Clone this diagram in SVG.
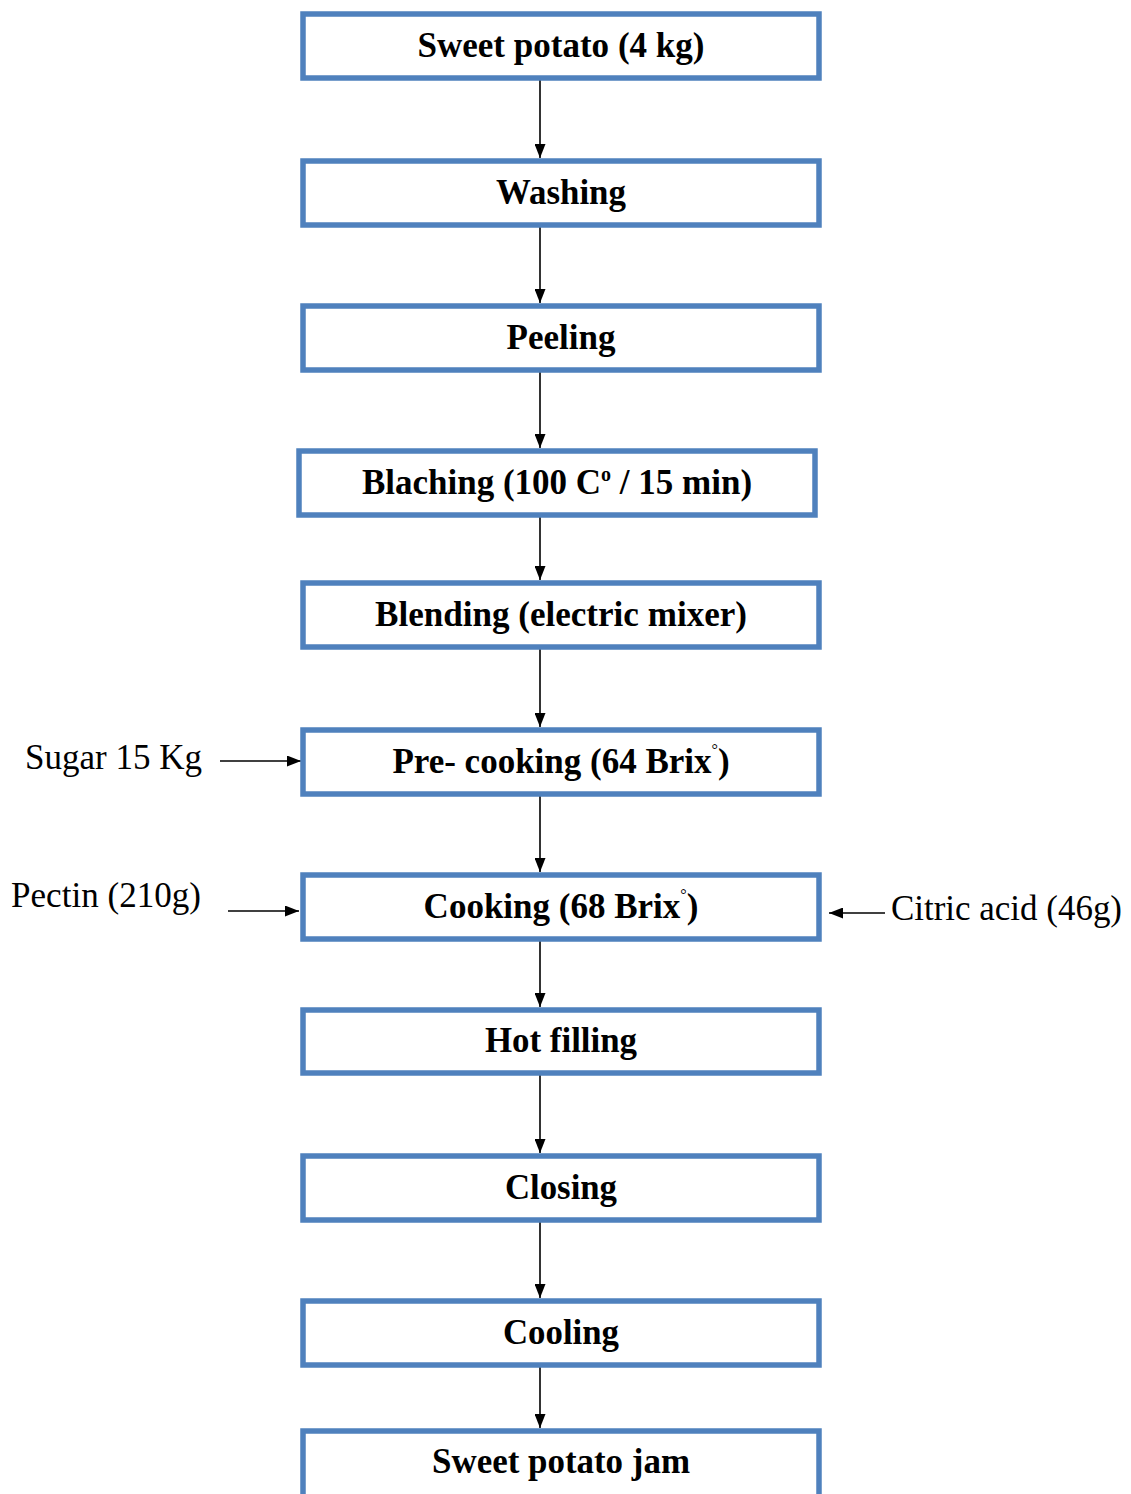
<svg xmlns="http://www.w3.org/2000/svg" width="1131" height="1494" viewBox="0 0 1131 1494">
<style>
.box{fill:#fff;stroke:#4F81BD;stroke-width:5.5}
.t{font-family:'Times New Roman','Liberation Serif',Tinos,Times,serif;font-weight:bold;font-size:35px;fill:#000;text-anchor:middle}
.l{font-family:'Times New Roman','Liberation Serif',Tinos,Times,serif;font-size:35px;fill:#000}
.c{stroke:#000;stroke-width:1.6;fill:none;marker-end:url(#ah)}
</style>
<defs>
<marker id="ah" markerWidth="14" markerHeight="11" viewBox="0 0 14 11" refX="14" refY="5.5" orient="auto" markerUnits="userSpaceOnUse">
<path d="M0,0 L14,5.5 L0,11 z" fill="#000"/>
</marker>
</defs>
<rect width="1131" height="1494" fill="#fff"/>
<g id="connectors">
<line class="c" x1="540" y1="80" x2="540" y2="158"/>
<line class="c" x1="540" y1="227" x2="540" y2="303"/>
<line class="c" x1="540" y1="372" x2="540" y2="448"/>
<line class="c" x1="540" y1="517" x2="540" y2="580"/>
<line class="c" x1="540" y1="649" x2="540" y2="727"/>
<line class="c" x1="540" y1="796" x2="540" y2="872"/>
<line class="c" x1="540" y1="941" x2="540" y2="1007"/>
<line class="c" x1="540" y1="1075" x2="540" y2="1153"/>
<line class="c" x1="540" y1="1222" x2="540" y2="1298"/>
<line class="c" x1="540" y1="1367" x2="540" y2="1428"/>
<line class="c" x1="220" y1="761" x2="301" y2="761"/>
<line class="c" x1="228" y1="911" x2="299" y2="911"/>
<line class="c" x1="885" y1="913" x2="829" y2="913"/>
</g>
<g id="n1"><rect class="box" x="303" y="14" width="516" height="64"/><text class="t" x="561" y="57" textLength="287" lengthAdjust="spacingAndGlyphs">Sweet potato (4 kg)</text></g>
<g id="n2"><rect class="box" x="303" y="161" width="516" height="64"/><text class="t" x="561" y="204" textLength="130" lengthAdjust="spacingAndGlyphs">Washing</text></g>
<g id="n3"><rect class="box" x="303" y="306" width="516" height="64"/><text class="t" x="561" y="349" textLength="109" lengthAdjust="spacingAndGlyphs">Peeling</text></g>
<g id="n4"><rect class="box" x="299" y="451" width="516" height="64"/><text class="t" x="557" y="494">Blaching (100 C<tspan font-size="20" dy="-13">o</tspan><tspan dy="13"> / 15 min)</tspan></text></g>
<g id="n5"><rect class="box" x="303" y="583" width="516" height="64"/><text class="t" x="561" y="626" textLength="372" lengthAdjust="spacingAndGlyphs">Blending (electric mixer)</text></g>
<g id="n6"><rect class="box" x="303" y="730" width="516" height="64"/><text class="t" x="561" y="773">Pre- cooking (64 Brix<tspan font-size="16" font-weight="normal" dy="-18">°</tspan><tspan dy="18">)</tspan></text></g>
<g id="n7"><rect class="box" x="303" y="875" width="516" height="64"/><text class="t" x="561" y="918">Cooking (68 Brix<tspan font-size="16" font-weight="normal" dy="-18">°</tspan><tspan dy="18">)</tspan></text></g>
<g id="n8"><rect class="box" x="303" y="1010" width="516" height="63"/><text class="t" x="561" y="1052" textLength="152" lengthAdjust="spacingAndGlyphs">Hot filling</text></g>
<g id="n9"><rect class="box" x="303" y="1156" width="516" height="64"/><text class="t" x="561" y="1199" textLength="112" lengthAdjust="spacingAndGlyphs">Closing</text></g>
<g id="n10"><rect class="box" x="303" y="1301" width="516" height="64"/><text class="t" x="561" y="1344" textLength="116" lengthAdjust="spacingAndGlyphs">Cooling</text></g>
<g id="n11"><rect class="box" x="303" y="1431" width="516" height="80"/><text class="t" x="561" y="1473" textLength="258" lengthAdjust="spacingAndGlyphs">Sweet potato jam</text></g>
<g id="sugar"><text class="l" x="25" y="769" textLength="177" lengthAdjust="spacingAndGlyphs">Sugar 15 Kg</text></g>
<g id="pectin"><text class="l" x="11" y="907" textLength="190" lengthAdjust="spacingAndGlyphs">Pectin (210g)</text></g>
<g id="citric"><text class="l" x="891" y="920" textLength="231" lengthAdjust="spacingAndGlyphs">Citric acid (46g)</text></g>
</svg>
